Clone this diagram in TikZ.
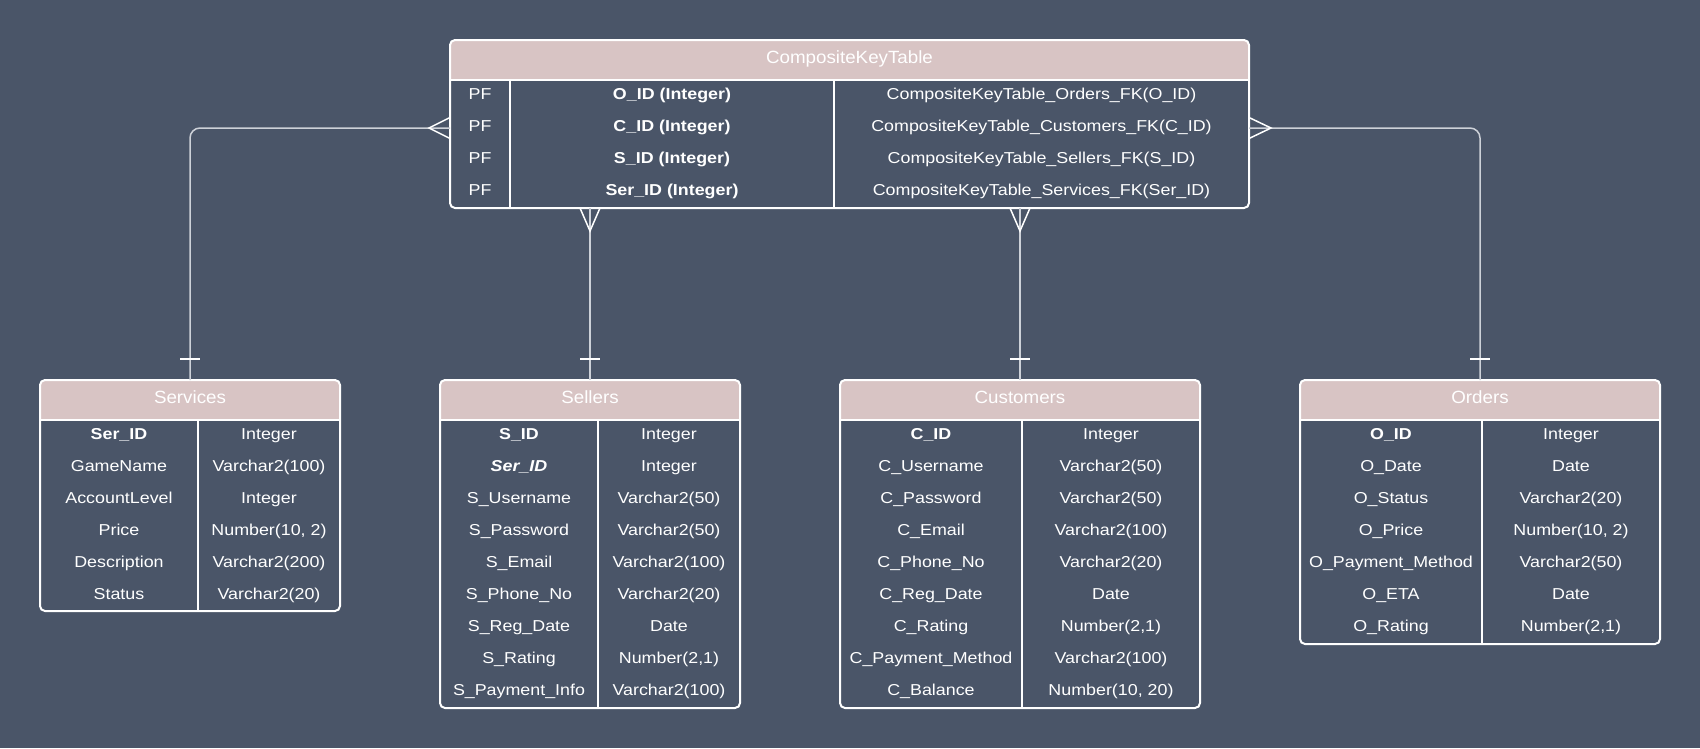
\documentclass[tikz,border=0pt]{standalone}
\usepackage{fontspec}
\setmainfont{Liberation Sans}
\newfontfamily\rowfont{Liberation Sans}[FakeStretch=1.13]
\newfontfamily\headfont{Liberation Sans}[FakeStretch=1.06]
\usetikzlibrary{calc}
\definecolor{bg}{HTML}{4A5568}
\definecolor{hdr}{HTML}{D8C4C4}
\definecolor{conn}{HTML}{CDD1D8}
\newcommand\tablerows[5]{%
  \foreach \a/\b [count=\i] in {#5}{%
    \node[txt] (#1a\i) at (#2,{#4+32*\i-12.2}) {\a};
    \node[txt] (#1b\i) at (#3,{#4+32*\i-12.2}) {\b};}}
\newcommand\tablebox[6]{% name, x1, y1, x2, y2, divider list
  \fill[hdr, rounded corners=5pt] (#2,#3) rectangle (#4,{#3+40});
  \fill[hdr] (#2,{#3+20}) rectangle (#4,{#3+40});
  \node[tbox, minimum width={(#4-#2)*1pt}, minimum height={(#5-#3)*1pt}] (#1) at (#2,#3) {};
  \draw[sep] (#2,{#3+40}) -- (#4,{#3+40});
  \foreach \d in {#6}{\draw[sep] (\d,{#3+40}) -- (\d,#5);}}
\begin{document}
\begin{tikzpicture}[x=1pt,y=-1pt,
  txt/.style={text=white, font=\rowfont\fontsize{15.8}{18}\selectfont, inner sep=0pt, anchor=base},
  htxt/.style={text=white, font=\headfont\fontsize{17.7}{20}\selectfont, inner sep=0pt, anchor=base},
  tbox/.style={draw=white, line width=2pt, rounded corners=5pt, inner sep=0pt, outer sep=0pt, anchor=north west},
  sep/.style={draw=white, line width=2pt},
  link/.style={draw=conn, line width=1.5pt, rounded corners=10pt},
  crow/.style={draw=white, line width=1.5pt}]
\fill[bg] (0,0) rectangle (1700,748);
\useasboundingbox (0,0) rectangle (1700,748);

% CompositeKeyTable
\tablebox{ck}{450}{40}{1249}{208}{510,834}
\node[htxt] (ckh) at (849.5,63.3) {CompositeKeyTable};
\foreach \a/\b/\c [count=\i] in {{O\_ID (Integer)}/{CompositeKeyTable\_Orders\_FK(O\_ID)}/x,
  {C\_ID (Integer)}/{CompositeKeyTable\_Customers\_FK(C\_ID)}/x,
  {S\_ID (Integer)}/{CompositeKeyTable\_Sellers\_FK(S\_ID)}/x,
  {Ser\_ID (Integer)}/{CompositeKeyTable\_Services\_FK(Ser\_ID)}/x}{%
  \node[txt] (ckp\i) at (480,{80+32*\i-12.2}) {PF};
  \node[txt] (ckn\i) at (672,{80+32*\i-12.2}) {\bfseries\a};
  \node[txt] (ckf\i) at (1041.5,{80+32*\i-12.2}) {\b};}

% Services
\tablebox{services}{40}{380}{340}{611}{198}
\node[htxt] (servh) at (190,403.3) {Services};
\tablerows{ser}{119}{269}{420}{{\textbf{Ser\_ID}}/Integer, GameName/{Varchar2(100)}, AccountLevel/Integer, Price/{Number(10, 2)}, Description/{Varchar2(200)}, Status/{Varchar2(20)}}

% Sellers
\tablebox{sellers}{440}{380}{740}{708}{598}
\node[htxt] (sellh) at (590,403.3) {Sellers};
\tablerows{sel}{519}{669}{420}{{\textbf{S\_ID}}/Integer, {\bfseries\itshape Ser\_ID}/Integer, {S\_Username}/{Varchar2(50)}, {S\_Password}/{Varchar2(50)}, {S\_Email}/{Varchar2(100)}, {S\_Phone\_No}/{Varchar2(20)}, {S\_Reg\_Date}/Date, {S\_Rating}/{Number(2,1)}, {S\_Payment\_Info}/{Varchar2(100)}}

% Customers
\tablebox{customers}{840}{380}{1200}{708}{1022}
\node[htxt] (custh) at (1020,403.3) {Customers};
\tablerows{cus}{931}{1111}{420}{{\textbf{C\_ID}}/Integer, {C\_Username}/{Varchar2(50)}, {C\_Password}/{Varchar2(50)}, {C\_Email}/{Varchar2(100)}, {C\_Phone\_No}/{Varchar2(20)}, {C\_Reg\_Date}/Date, {C\_Rating}/{Number(2,1)}, {C\_Payment\_Method}/{Varchar2(100)}, {C\_Balance}/{Number(10, 20)}}

% Orders
\tablebox{orders}{1300}{380}{1660}{644}{1482}
\node[htxt] (ordh) at (1480,403.3) {Orders};
\tablerows{ord}{1391}{1571}{420}{{\textbf{O\_ID}}/Integer, {O\_Date}/Date, {O\_Status}/{Varchar2(20)}, {O\_Price}/{Number(10, 2)}, {O\_Payment\_Method}/{Varchar2(50)}, {O\_ETA}/Date, {O\_Rating}/{Number(2,1)}}

% connector end points
\coordinate (cL) at ([yshift=-4pt]ck.west);
\coordinate (cR) at ([yshift=-4pt]ck.east);
\coordinate (cS) at (ck.south -| sellers.north);
\coordinate (cC) at (ck.south -| customers.north);

% connectors
\draw[link] (services.north) |- (cL);
\draw[link] (orders.north) |- (cR);
\draw[link] (cS) -- (sellers.north);
\draw[link] (cC) -- (customers.north);

% crow's feet (many)
\draw[crow] ($(cL)+(0,-10.5)$) -- ($(cL)+(-21,0)$) -- ($(cL)+(0,10.5)$);
\draw[crow] ($(cR)+(0,-10.5)$) -- ($(cR)+(22,0)$) -- ($(cR)+(0,10.5)$);
\draw[crow] ($(cS)+(-10,0)$) -- ($(cS)+(0,23)$) -- ($(cS)+(10,0)$);
\draw[crow] ($(cC)+(-10,0)$) -- ($(cC)+(0,23)$) -- ($(cC)+(10,0)$);

% one bars
\foreach \t in {services,sellers,customers,orders}{
  \draw[crow] ($(\t.north)+(-10,-21)$) -- ($(\t.north)+(10,-21)$);}
\end{tikzpicture}
\end{document}
